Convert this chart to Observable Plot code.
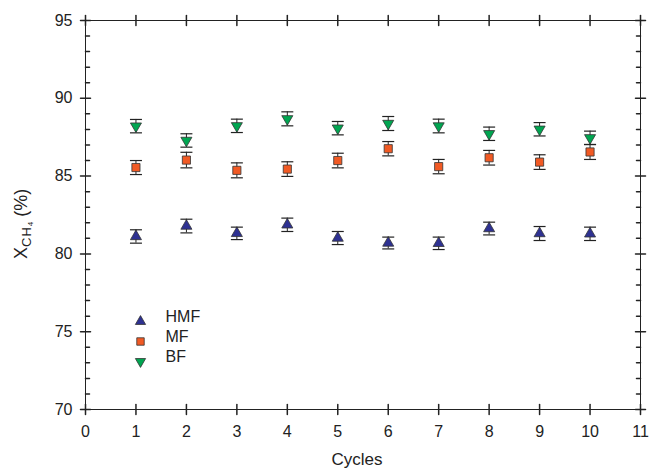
<!DOCTYPE html>
<html><head><meta charset="utf-8">
<script src="https://cdn.jsdelivr.net/npm/d3@7"></script>
<script src="https://cdn.jsdelivr.net/npm/@observablehq/plot@0.6"></script>
<style>
body{margin:0;background:#fff;}
#chart svg{display:block;}
</style>
</head><body><div id="chart"></div>
<script>
// ---- data ----
const cycles = [1, 2, 3, 4, 5, 6, 7, 8, 9, 10];
const hmfValues = [81.12, 81.79, 81.32, 81.87, 81.02, 80.70, 80.68, 81.63, 81.31, 81.29];
const hmfErrors = [0.43, 0.44, 0.40, 0.43, 0.42, 0.38, 0.40, 0.41, 0.45, 0.43];
const mfValues  = [85.55, 86.03, 85.37, 85.45, 86.00, 86.76, 85.61, 86.18, 85.90, 86.55];
const mfErrors  = [0.45, 0.50, 0.48, 0.47, 0.47, 0.46, 0.46, 0.47, 0.47, 0.48];
const bfValues  = [88.21, 87.29, 88.23, 88.68, 88.08, 88.38, 88.22, 87.72, 88.01, 87.46];
const bfErrors  = [0.43, 0.43, 0.43, 0.45, 0.43, 0.45, 0.44, 0.43, 0.43, 0.43];

const seriesNames   = ["HMF", "MF", "BF"];
const seriesColors  = ["#2e3192", "#f15a24", "#00a651"];
const seriesSymbols = ["triangle", "square", "triangle"];
const seriesRotate  = [0, 0, 180];

const xTicks = [0, 1, 2, 3, 4, 5, 6, 7, 8, 9, 10, 11];
const yMajorTicks = [70, 75, 80, 85, 90, 95];
const yMinorTicks = [71, 72, 73, 74, 76, 77, 78, 79, 81, 82, 83, 84, 86, 87, 88, 89, 91, 92, 93, 94];
const xLabel = "Cycles";

// ---- build table ----
const seriesData = [
  {values: hmfValues, errors: hmfErrors},
  {values: mfValues, errors: mfErrors},
  {values: bfValues, errors: bfErrors}
];
const rows = [];
seriesData.forEach((s, si) => {
  cycles.forEach((c, i) => rows.push({series: seriesNames[si], si, cycle: c, value: s.values[i], err: s.errors[i]}));
});

const ink = "#222";
const crossTick = {draw(ctx, l) { ctx.moveTo(0, -l); ctx.lineTo(0, l); }};
const inTick = {draw(ctx, l) { ctx.moveTo(0, 0); ctx.lineTo(0, -l); }};
const capSymbol = {draw(ctx, size) { const w = Math.sqrt(size / Math.PI); ctx.moveTo(-w, 0); ctx.lineTo(w, 0); }};

const marks = [
  Plot.frame({stroke: ink, strokeWidth: 1}),
  // x ticks bottom/top (crossing)
  Plot.vector(xTicks, {x: d => d, frameAnchor: "bottom", length: 5, rotate: 0, anchor: "start", shape: crossTick, stroke: ink}),
  Plot.vector(xTicks, {x: d => d, frameAnchor: "top", length: 5, rotate: 0, anchor: "start", shape: crossTick, stroke: ink}),
  // y major ticks left/right (crossing)
  Plot.vector(yMajorTicks, {y: d => d, frameAnchor: "left", length: 5, rotate: 90, anchor: "start", shape: crossTick, stroke: ink}),
  Plot.vector(yMajorTicks, {y: d => d, frameAnchor: "right", length: 5, rotate: 90, anchor: "start", shape: crossTick, stroke: ink}),
  // y minor ticks (inward)
  Plot.vector(yMinorTicks, {y: d => d, frameAnchor: "left", length: 4, rotate: 90, anchor: "start", shape: inTick, stroke: ink}),
  Plot.vector(yMinorTicks, {y: d => d, frameAnchor: "right", length: 4, rotate: -90, anchor: "start", shape: inTick, stroke: ink}),
  // tick labels
  Plot.axisX({ticks: xTicks, tickSize: 0, tickPadding: 16, fontSize: 16, label: null, tickFormat: d => String(d)}),
  Plot.axisY({ticks: yMajorTicks, tickSize: 0, tickPadding: 13, fontSize: 16, label: null, tickFormat: d => String(d)}),
  // error bars
  Plot.ruleX(rows, {x: "cycle", y1: d => d.value - d.err, y2: d => d.value + d.err, stroke: ink, strokeWidth: 1}),
  Plot.dot(rows, {x: "cycle", y: d => d.value - d.err, symbol: capSymbol, r: 6, fill: "none", stroke: ink, strokeWidth: 1.2}),
  Plot.dot(rows, {x: "cycle", y: d => d.value + d.err, symbol: capSymbol, r: 6, fill: "none", stroke: ink, strokeWidth: 1.2}),
  // markers
  ...seriesNames.map((name, si) => Plot.dot(rows.filter(d => d.si === si), {
    x: "cycle", y: "value", symbol: seriesSymbols[si], rotate: seriesRotate[si],
    r: si === 1 ? 4.6 : 4.1, fill: seriesColors[si], stroke: "#333", strokeWidth: 0.8
  })),
  // legend
  ...seriesNames.map((name, si) => Plot.dot([name], {
    frameAnchor: "bottom-left", dx: 55, dy: -88 + si * 20, symbol: seriesSymbols[si], rotate: seriesRotate[si],
    r: si === 1 ? 4.2 : 3.8, fill: seriesColors[si], stroke: "#333", strokeWidth: 0.8
  })),
  ...seriesNames.map((name, si) => Plot.text([name], {
    frameAnchor: "bottom-left", dx: 80, dy: -88 + si * 20, text: d => d, textAnchor: "start", fontSize: 16, fill: ink
  })),
  // x axis title
  Plot.text([xLabel], {frameAnchor: "bottom", dx: -6, dy: 55, text: d => d, fontSize: 17, fill: ink})
];

const chart = Plot.plot({
  width: 649,
  height: 472,
  marginLeft: 85,
  marginRight: 9,
  marginTop: 20,
  marginBottom: 63,
  x: {domain: [0, 11], axis: null},
  y: {domain: [70, 95], axis: null},
  style: {fontFamily: "'Liberation Sans', Arial, sans-serif", color: ink, background: "#fff", overflow: "visible"},
  marks
});
document.getElementById("chart").appendChild(chart);

// y axis title with subscripts
const svg = d3.select(chart);
const t = svg.append("text")
  .attr("transform", "translate(27,259) rotate(-90)")
  .attr("text-anchor", "start")
  .attr("fill", ink)
  .style("font-family", "'Liberation Sans', Arial, sans-serif");
t.append("tspan").style("font-size", "18px").text("X");
t.append("tspan").style("font-size", "13px").attr("dy", 4).attr("letter-spacing", "1").text("CH");
t.append("tspan").style("font-size", "8px").attr("dy", 2).text("4");
t.append("tspan").style("font-size", "18px").attr("dy", -6).text(" (%)");
</script>
</body></html>
